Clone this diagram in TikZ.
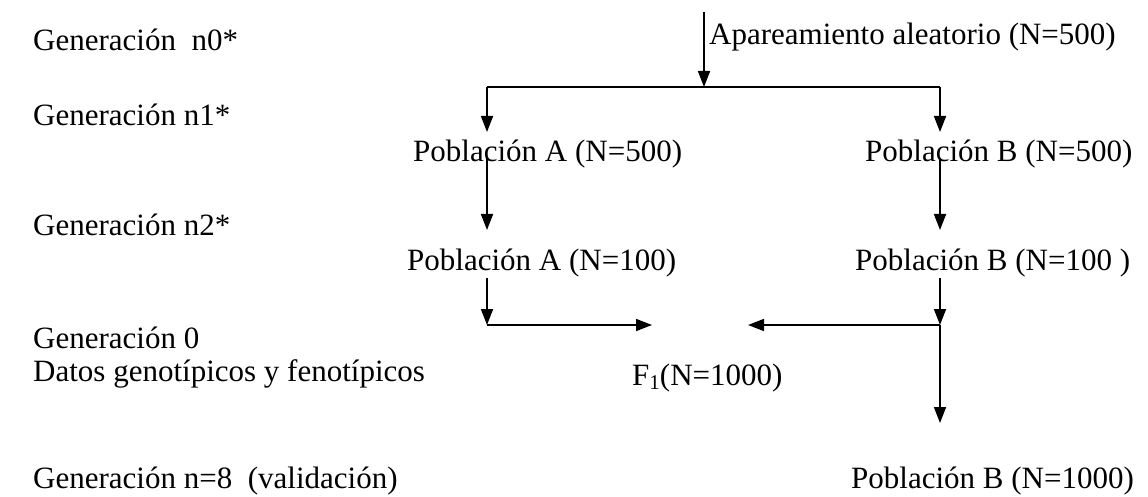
\documentclass[tikz,border=0pt]{standalone}
\usepackage{fontspec}
\setmainfont{Liberation Serif}
\usetikzlibrary{arrows.meta}
\begin{document}
\begin{tikzpicture}[x=1pt,y=-1pt,
  lbl/.style={anchor=base west,inner sep=0pt,font=\fontsize{31}{35}\selectfont},
  conn/.style={line width=1.7pt,-{Triangle[length=16pt,width=12pt]}},
  plain/.style={line width=1.7pt}]
\useasboundingbox (0,0) rectangle (1148,497);
% left column
\node[lbl] (g0) at (33,51) {Generación\ \ n0*};
\node[lbl] (g1) at (33,126) {Generación n1*};
\node[lbl] (g2) at (33,236) {Generación n2*};
\node[lbl] (g3) at (33,348) {Generación 0};
\node[lbl] (g3b) at (33,381) {Datos genotípicos y fenotípicos};
\node[lbl] (g4) at (33,488) {Generación n=8\ \ (validación)};
% right part
\node[lbl] (apa) at (709,45) {Apareamiento aleatorio (N=500)};
\node[lbl] (pa1) at (413,162) {Población A (N=500)};
\node[lbl] (pb1) at (865,162) {Población B (N=500)};
\node[lbl] (pa2) at (407,270) {Población A (N=100)};
\node[lbl] (pb2) at (855,270) {Población B (N=100 )};
\node[lbl] (f1) at (632,385) {F\raisebox{-0.3ex}{\fontsize{21}{21}\selectfont 1}(N=1000)};
\node[lbl] (pb3) at (851,488) {Población B (N=1000)};
% coordinates
\coordinate (top) at (704,12);
\coordinate (split) at (704,87);
\coordinate (lj) at (487,87);
\coordinate (rj) at (940,87);
\coordinate (la1) at (487,132);
\coordinate (rb1) at (940,132);
\coordinate (la1s) at (487,158);
\coordinate (la2) at (487,230);
\coordinate (rb1s) at (940,158);
\coordinate (rb2) at (940,230);
\coordinate (la2s) at (487,278);
\coordinate (lm) at (487,325);
\coordinate (rb2s) at (940,278);
\coordinate (rm) at (940,325);
\coordinate (fl) at (652,325);
\coordinate (fr) at (748,325);
\coordinate (rb3) at (940,423);
% connectors
\draw[conn] (top) -- (split);
\draw[plain] (lj) -- (rj);
\draw[conn] (lj) -- (la1);
\draw[conn] (rj) -- (rb1);
\draw[conn] (la1s) -- (la2);
\draw[conn] (rb1s) -- (rb2);
\draw[conn] (la2s) -- (lm);
\draw[conn] (rb2s) -- (rm);
\draw[conn] (lm) -- (fl);
\draw[conn] (rm) -- (fr);
\draw[conn] (rm) -- (rb3);
\end{tikzpicture}
\end{document}
